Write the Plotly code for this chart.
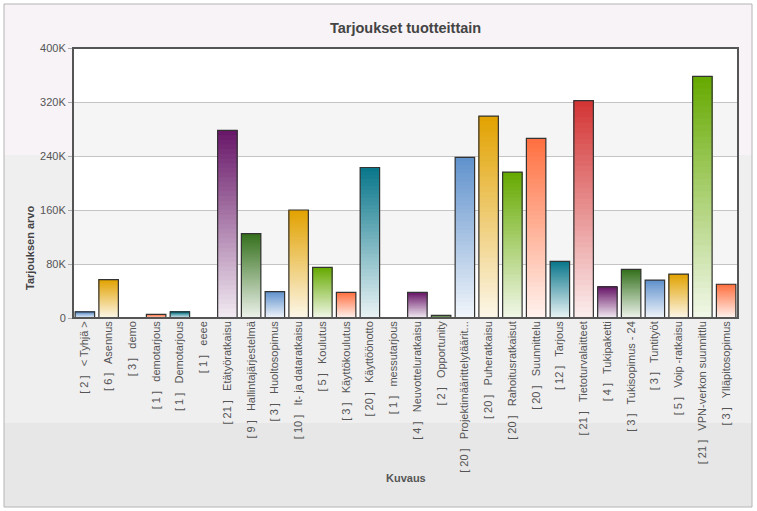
import plotly.graph_objects as go

# ---------------- data ----------------
counts = [2, 6, 3, 1, 1, 1, 21, 9, 3, 10, 5, 3, 20, 1, 4, 2, 20, 20, 20, 20, 12, 21, 4, 3, 3, 5, 21, 3]
names = ["< Tyhjä >", "Asennus", "demo", "demotarjous", "Demotarjous", "eeee",
         "Etätyöratkaisu", "Hallintajärjestelmä", "Huoltosopimus", "It- ja dataratkaisu",
         "Koulutus", "Käyttökoulutus", "Käyttöönotto", "messutarjous", "Neuvotteluratkaisu",
         "Opportunity", "Projektimäärittelytäärit...", "Puheratkaisu", "Rahoitusratkaisut",
         "Suunnittelu", "Tarjous", "Tietoturvalaitteet", "Tukipaketti", "Tukisopimus - 24",
         "Tuntityöt", "Voip -ratkaisu", "VPN-verkon suunnittlu", "Ylläpitosopimus"]
values = [9000, 57000, 0, 5500, 9000, 0, 278000, 125000, 39000, 160000, 75000, 38000,
          223000, 0, 38000, 4000, 238000, 299000, 216000, 266000, 84000, 322000, 46000,
          72000, 56000, 65000, 358000, 50000]
y_tickvals = [0, 80000, 160000, 240000, 320000, 400000]
y_ticktext = ["0", "80K", "160K", "240K", "320K", "400K"]

title_text = "Tarjoukset tuotteittain"
y_title = "Tarjouksen arvo"
x_title = "Kuvaus"

# ---------------- style ----------------
palette = [(96, 146, 205), (226, 162, 0), (102, 170, 0), (255, 112, 64),
           (8, 118, 138), (212, 52, 52), (104, 22, 104), (52, 112, 28)]
FONT = "Liberation Sans, Arial, sans-serif"
W, H = 757, 511
L, R, T, B = 73, 19, 48, 193
N_SEG = 40

labels = [f"[ {c} ]\u00a0\u00a0 {n}" for c, n in zip(counts, names)]


def mix(col, t):
    # t=1 -> full colour, t=0 -> near white
    lo = 0.08
    f = lo + (1 - lo) * t
    r, g, b = col
    return f"rgb({int(255 + (r - 255) * f)},{int(255 + (g - 255) * f)},{int(255 + (b - 255) * f)})"


fig = go.Figure()
bar_w = 0.82
# gradient: each layer spans from its base up to the full bar top (no seams)
for i in range(N_SEG):
    t = (i + 0.5) / N_SEG
    fig.add_trace(go.Bar(
        x=labels,
        y=[v * (1 - i / N_SEG) for v in values],
        base=[v * i / N_SEG for v in values],
        marker=dict(color=[mix(palette[k % len(palette)], t) for k in range(len(values))],
                    line=dict(width=0)),
        width=bar_w, showlegend=False, hoverinfo="skip"))

fig.add_trace(go.Bar(
    x=labels, y=[v if v > 0 else None for v in values], base=0,
    marker=dict(color="rgba(0,0,0,0)", line=dict(color="#333333", width=1.2)),
    width=bar_w, showlegend=False))

pw, ph = W - L - R, H - T - B


def px(x):
    return (x - L) / pw


def py(y):
    return (H - B - y) / ph


shapes = []
# chart background
shapes.append(dict(type="rect", xref="paper", yref="paper", x0=px(4), x1=px(752), y0=py(4), y1=py(155),
                   fillcolor="#f7f3f6", line=dict(width=0), layer="below"))
shapes.append(dict(type="rect", xref="paper", yref="paper", x0=px(4), x1=px(752), y0=py(155), y1=py(423),
                   fillcolor="#f0eff0", line=dict(width=0), layer="below"))
shapes.append(dict(type="rect", xref="paper", yref="paper", x0=px(4), x1=px(752), y0=py(423), y1=py(507),
                   fillcolor="#e7e7e7", line=dict(width=0), layer="below"))
shapes.append(dict(type="rect", xref="paper", yref="paper", x0=px(4), x1=px(752), y0=py(4), y1=py(507),
                   fillcolor="rgba(0,0,0,0)", line=dict(width=1, color="#b4b4b4"), layer="below"))
# plot area
shapes.append(dict(type="rect", xref="paper", yref="paper", x0=0, x1=1, y0=0, y1=1,
                   fillcolor="white", line=dict(width=0), layer="below"))
# alternating bands
for k in range(len(y_tickvals) - 1):
    if k % 2 == 1:
        shapes.append(dict(type="rect", xref="x domain", yref="y", x0=0, x1=1,
                           y0=y_tickvals[k], y1=y_tickvals[k + 1],
                           fillcolor="#f5f5f5", line=dict(width=0), layer="below"))
# plot border
shapes.append(dict(type="rect", xref="paper", yref="paper", x0=0, x1=1, y0=0, y1=1,
                   fillcolor="rgba(0,0,0,0)", line=dict(width=2, color="#555555"), layer="above"))

annotations = [
    dict(text=f"<b>{title_text}</b>", xref="paper", yref="paper", x=0.5, y=py(28),
         showarrow=False, font=dict(family=FONT, size=14.5, color="#444444"), xanchor="center", yanchor="middle"),
    dict(text=f"<b>{y_title}</b>", xref="paper", yref="paper", x=px(30), y=py(248), textangle=-90,
         showarrow=False, font=dict(family=FONT, size=11, color="#444444"), xanchor="center", yanchor="middle"),
    dict(text=f"<b>{x_title}</b>", xref="paper", yref="paper", x=0.5, y=py(478),
         showarrow=False, font=dict(family=FONT, size=11, color="#555555"), xanchor="center", yanchor="middle"),
]

fig.update_layout(
    width=W, height=H, margin=dict(l=L, r=R, t=T, b=B, autoexpand=False),
    paper_bgcolor="white", plot_bgcolor="rgba(0,0,0,0)",
    barmode="overlay", shapes=shapes, annotations=annotations,
    font=dict(family=FONT, size=11, color="#555555"),
    xaxis=dict(type="category", tickangle=-90, showgrid=False, showline=False, ticks="",
               tickfont=dict(family=FONT, size=11, color="#555555"), automargin=False, fixedrange=True),
    yaxis=dict(range=[0, 400000], tickvals=y_tickvals, ticktext=y_ticktext, showgrid=True,
               gridcolor="#c4c4c4", gridwidth=1, zeroline=False, showline=False, ticks="outside",
               ticklen=4, tickcolor="#aaaaaa", tickfont=dict(family=FONT, size=11, color="#555555"),
               automargin=False, fixedrange=True),
)

fig.write_html("out.html", config={"displayModeBar": False},
               post_script="document.body.style.margin='0px';document.body.style.overflow='hidden';")
